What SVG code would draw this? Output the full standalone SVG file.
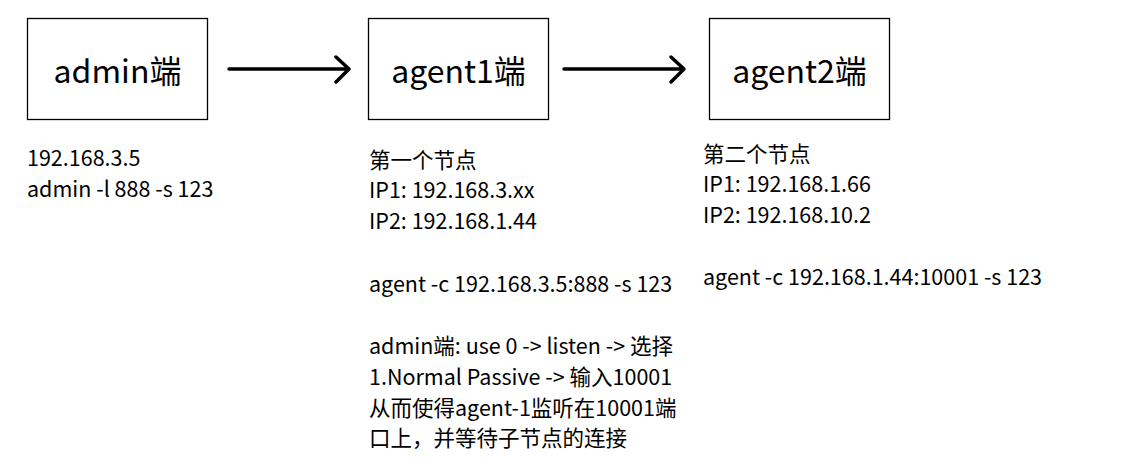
<svg xmlns="http://www.w3.org/2000/svg" width="1128" height="468" viewBox="0 0 1128 468">
<style>
.box{fill:#fff;stroke:#000;stroke-width:1.3}
.title{font-family:"Noto Sans CJK SC","Noto Sans",sans-serif;font-size:32px;fill:#000;text-anchor:middle}
.t{font-family:"Noto Sans CJK SC","Noto Sans",sans-serif;font-size:21.5px;fill:#000}
.conn{stroke:#000;stroke-width:3.5;fill:none;stroke-linecap:round;stroke-linejoin:round}
</style>
<rect width="1128" height="468" fill="#fff"/>
<g id="admin">
<rect class="box" x="27.5" y="18.5" width="180" height="101"/>
<text class="title" x="117.5" y="83">admin端</text>
<text class="t" x="27" y="166">192.168.3.5</text>
<text class="t" x="27" y="197">admin -l 888 -s 123</text>
</g>
<g id="agent1">
<rect class="box" x="368.5" y="18.5" width="180" height="101"/>
<text class="title" x="458.5" y="83">agent1端</text>
<text class="t" x="369" y="168">第一个节点</text>
<text class="t" x="369" y="198">IP1: 192.168.3.xx</text>
<text class="t" x="369" y="229">IP2: 192.168.1.44</text>
<text class="t" x="369" y="292">agent -c 192.168.3.5:888 -s 123</text>
<text class="t" x="369" y="354">admin端: use 0 -&gt; listen -&gt; 选择</text>
<text class="t" x="369" y="385">1.Normal Passive -&gt; 输入10001</text>
<text class="t" x="369" y="416">从而使得agent-1监听在10001端</text>
<text class="t" x="369" y="446">口上，并等待子节点的连接</text>
</g>
<g id="agent2">
<rect class="box" x="709.5" y="18.5" width="180" height="101"/>
<text class="title" x="799.5" y="83">agent2端</text>
<text class="t" x="703" y="162">第二个节点</text>
<text class="t" x="703" y="192">IP1: 192.168.1.66</text>
<text class="t" x="703" y="223">IP2: 192.168.10.2</text>
<text class="t" x="703" y="285">agent -c 192.168.1.44:10001 -s 123</text>
</g>
<g id="connectors">
<path class="conn" d="M229 69 H348 M336 57 L349 69 L336 82"/>
<path class="conn" d="M564 69 H683 M671 57 L684 69 L671 82"/>
</g>
</svg>
